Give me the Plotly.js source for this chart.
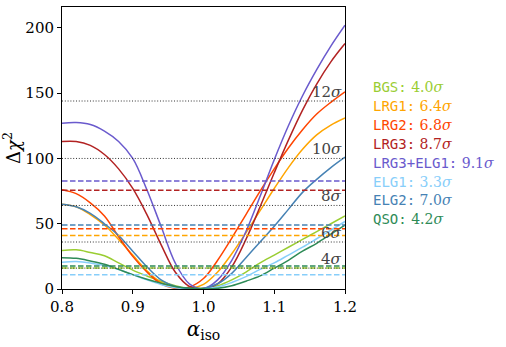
<!DOCTYPE html>
<html>
<head>
<meta charset="utf-8">
<script src="https://cdn.plot.ly/plotly-3.0.1.min.js"></script>
<style>
  body { margin: 0; background: white; }
  #graph { width: 506px; height: 347px; }
</style>
</head>
<body>
<div id="graph"></div>
<script>
// alpha grid shared by every curve
const alpha = [0.80, 0.82, 0.84, 0.86, 0.88, 0.90, 0.92, 0.94, 0.96, 0.98, 1.00,
               1.02, 1.04, 1.06, 1.08, 1.10, 1.12, 1.14, 1.16, 1.18, 1.20];

// delta chi2
const bgs     = [29.5, 30, 28, 25.5, 20, 14.5, 10, 6, 2.5, 0.3, 0.5, 2.5, 7, 13, 20, 26, 32, 38, 44, 50, 56];
const lrg1    = [65, 63, 57, 49, 38, 26, 14, 5, 1, 0.3, 3.5, 13, 27, 43, 60, 77, 93, 107, 118, 125.5, 131];
const lrg2    = [76, 73, 66, 56, 40, 25, 13, 4, 0.5, 1.5, 8, 22, 39, 57, 75, 92, 108, 122, 134, 143, 151];
const lrg3    = [113, 113, 110, 103, 92, 77, 57, 34, 13, 2, 0.3, 4, 17, 38, 63, 89, 114, 137, 157, 174, 188];
const lrg3elg1= [127, 127.5, 126, 121, 113, 100, 76, 48, 20, 4, 0.3, 7, 22, 44, 71, 99, 125, 148, 168, 186, 202];
const elg1    = [20.5, 21, 20, 18, 15, 11, 7, 3.5, 1, 0.2, 0.2, 1.5, 5, 9.5, 15, 20, 26, 32, 38.5, 45, 51.7];
const elg2    = [65, 63, 58, 50, 41, 29, 17, 7, 2, 0.3, 0.5, 4, 12, 24, 36, 48, 61, 74, 84, 93, 101];
const qso     = [24, 23.5, 21.5, 19, 15, 11, 7.5, 4.5, 2, 0.7, 0.1, 0.5, 2.5, 6, 10, 16, 22, 29, 35, 42, 49];

const names  = ['BGS', 'LRG1', 'LRG2', 'LRG3', 'LRG3+ELG1', 'ELG1', 'ELG2', 'QSO'];
const sigmas = [4.0, 6.4, 6.8, 8.7, 9.1, 3.3, 7.0, 4.2];
const colors = ['#9acd32', '#ffa500', '#ff4500', '#b22222', '#6a5acd', '#87cefa', '#4682b4', '#2e8b57'];
const curves = [bgs, lrg1, lrg2, lrg3, lrg3elg1, elg1, elg2, qso];

// reference sigma levels (dotted)
const levels = [4, 6, 8, 10, 12];

const traces = [];

curves.forEach((c, i) => {
    traces.push({
        x: alpha, y: c, type: 'scatter', mode: 'lines',
        line: { color: colors[i], width: 1.5, shape: 'spline', smoothing: 1 },
        hoverinfo: 'skip'
    });
});

// dashed line at each sample's detection level
sigmas.forEach((s, i) => {
    traces.push({
        x: [0.8, 1.2], y: [s * s, s * s], type: 'scatter', mode: 'lines',
        line: { color: colors[i], width: 1.5, dash: '5.5px,2.5px' },
        hoverinfo: 'skip'
    });
});

levels.forEach(n => {
    traces.push({
        x: [0.8, 1.2], y: [n * n, n * n], type: 'scatter', mode: 'lines',
        line: { color: '#333333', width: 1, dash: '1px,1.8px' },
        hoverinfo: 'skip'
    });
});

// only single family names get picked up here
const serif = 'DejaVu Serif';
const mono = 'DejaVu Sans Mono';

const annotations = [];

levels.forEach(n => {
    annotations.push({
        x: 1.2, y: n * n, xref: 'x', yref: 'y',
        xanchor: 'right', yanchor: 'bottom', yshift: -2, xshift: -1,
        text: n + '<i>σ</i>', showarrow: false,
        font: { family: serif, size: 15, color: '#444444' }
    });
});

// coloured text legend on the right
names.forEach((nm, i) => {
    annotations.push({
        x: 0, y: 87 + i * 18.9, xref: 'paper', yref: 'paper',
        text: `<span style="font-family:${mono}">${nm}:</span> ${sigmas[i].toFixed(1)}<i>σ</i>`,
        showarrow: false, xanchor: 'left', yanchor: 'middle',
        font: { family: serif, size: 14, color: colors[i] }
    });
});

// legend positions are given in pixels from the top, convert to paper units
const plotTop = 7, plotBottom = 289, plotLeft = 62, plotRight = 345;
annotations.forEach(a => {
    if (a.xref === 'paper') {
        a.y = (plotBottom - a.y) / (plotBottom - plotTop);
        a.x = (371 - plotLeft) / (plotRight - plotLeft);
    }
});

const layout = {
    width: 506, height: 347,
    margin: { l: plotLeft, r: 506 - plotRight, t: plotTop, b: 347 - plotBottom },
    paper_bgcolor: 'white', plot_bgcolor: 'white',
    showlegend: false,
    font: { family: serif, size: 14, color: 'black' },
    xaxis: {
        range: [0.8, 1.2],
        tickvals: [0.8, 0.9, 1.0, 1.1, 1.2],
        ticktext: ['0.8', '0.9', '1.0', '1.1', '1.2'],
        ticks: 'outside', ticklen: 4, tickcolor: 'black', tickwidth: 1,
        showline: true, mirror: true, linecolor: 'black', linewidth: 1,
        showgrid: false, zeroline: false,
        tickfont: { family: serif, size: 15 },
        title: { text: '<i>α</i><sub>iso</sub>', font: { family: serif, size: 20 }, standoff: 6 }
    },
    yaxis: {
        range: [0, 216],
        tickvals: [0, 50, 100, 150, 200],
        ticks: 'outside', ticklen: 4, tickcolor: 'black', tickwidth: 1,
        showline: true, mirror: true, linecolor: 'black', linewidth: 1,
        showgrid: false, zeroline: false,
        tickfont: { family: serif, size: 15 },
        title: { text: 'Δ<i>χ</i><sup>2</sup>', font: { family: serif, size: 18 }, standoff: 8 }
    },
    annotations: annotations
};

Plotly.newPlot('graph', traces, layout, { displayModeBar: false, staticPlot: true });
</script>
</body>
</html>
